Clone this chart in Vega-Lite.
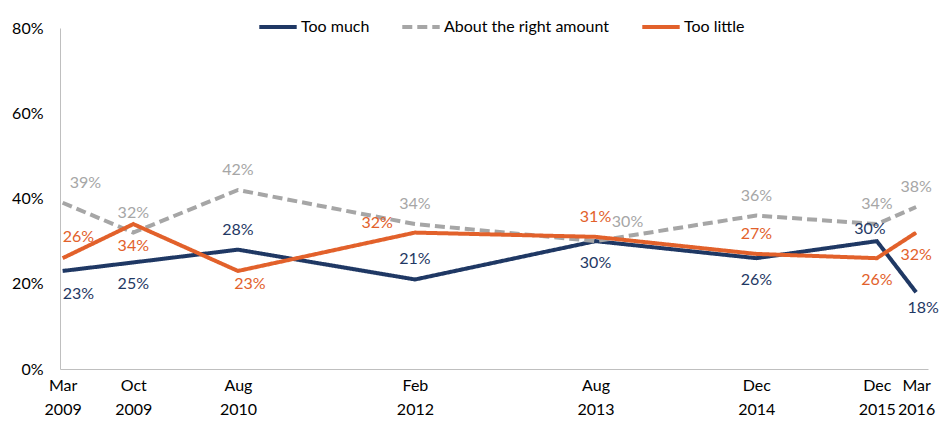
{
  "$schema": "https://vega.github.io/schema/vega-lite/v6.json",
  "width": 868,
  "height": 341,
  "autosize": {"type": "none"},
  "padding": {"left": 60, "top": 28, "right": 20, "bottom": 53},
  "background": "white",
  "config": {
    "view": {"stroke": null},
    "font": "Lato",
    "text": {"font": "Lato", "fontSize": 16, "baseline": "middle"}
  },
  "data": {
    "values": [
      {"period": "Mar 2009", "date": "2009-03-02", "series": "Too much", "value": 0.23},
      {"period": "Oct 2009", "date": "2009-10-02", "series": "Too much", "value": 0.25},
      {"period": "Aug 2010", "date": "2010-08-15", "series": "Too much", "value": 0.28},
      {"period": "Feb 2012", "date": "2012-02-02", "series": "Too much", "value": 0.21},
      {"period": "Aug 2013", "date": "2013-08-02", "series": "Too much", "value": 0.30},
      {"period": "Dec 2014", "date": "2014-12-02", "series": "Too much", "value": 0.26},
      {"period": "Dec 2015", "date": "2015-12-02", "series": "Too much", "value": 0.30},
      {"period": "Mar 2016", "date": "2016-03-30", "series": "Too much", "value": 0.18},
      {"period": "Mar 2009", "date": "2009-03-02", "series": "About the right amount", "value": 0.39},
      {"period": "Oct 2009", "date": "2009-10-02", "series": "About the right amount", "value": 0.32},
      {"period": "Aug 2010", "date": "2010-08-15", "series": "About the right amount", "value": 0.42},
      {"period": "Feb 2012", "date": "2012-02-02", "series": "About the right amount", "value": 0.34},
      {"period": "Aug 2013", "date": "2013-08-02", "series": "About the right amount", "value": 0.30},
      {"period": "Dec 2014", "date": "2014-12-02", "series": "About the right amount", "value": 0.36},
      {"period": "Dec 2015", "date": "2015-12-02", "series": "About the right amount", "value": 0.34},
      {"period": "Mar 2016", "date": "2016-03-30", "series": "About the right amount", "value": 0.38},
      {"period": "Mar 2009", "date": "2009-03-02", "series": "Too little", "value": 0.26},
      {"period": "Oct 2009", "date": "2009-10-02", "series": "Too little", "value": 0.34},
      {"period": "Aug 2010", "date": "2010-08-15", "series": "Too little", "value": 0.23},
      {"period": "Feb 2012", "date": "2012-02-02", "series": "Too little", "value": 0.32},
      {"period": "Aug 2013", "date": "2013-08-02", "series": "Too little", "value": 0.31},
      {"period": "Dec 2014", "date": "2014-12-02", "series": "Too little", "value": 0.27},
      {"period": "Dec 2015", "date": "2015-12-02", "series": "Too little", "value": 0.26},
      {"period": "Mar 2016", "date": "2016-03-30", "series": "Too little", "value": 0.32}
    ]
  },
  "encoding": {
    "x": {
      "field": "date",
      "type": "temporal",
      "scale": {"domain": [{"year": 2009, "month": 2, "date": 22}, {"year": 2016, "month": 5, "date": 5}]},
      "axis": {
        "title": null,
        "values": [
          {"year": 2009, "month": 3, "date": 2},
          {"year": 2009, "month": 10, "date": 2},
          {"year": 2010, "month": 8, "date": 15},
          {"year": 2012, "month": 2, "date": 2},
          {"year": 2013, "month": 8, "date": 2},
          {"year": 2014, "month": 12, "date": 2},
          {"year": 2015, "month": 12, "date": 2},
          {"year": 2016, "month": 3, "date": 30}
        ],
        "labelExpr": "[timeFormat(datum.value, '%b'), timeFormat(datum.value, '%Y')]",
        "labelFont": "Lato",
        "labelFontSize": 16,
        "labelLineHeight": 24,
        "labelPadding": 8,
        "labelColor": "#000000",
        "labelOverlap": false,
        "labelFlush": false,
        "domainColor": "#bfbfbf",
        "domainWidth": 1,
        "ticks": false,
        "grid": false
      }
    },
    "y": {
      "field": "value",
      "type": "quantitative",
      "scale": {"domain": [0, 0.8]},
      "axis": {
        "title": null,
        "values": [0, 0.2, 0.4, 0.6, 0.8],
        "format": ".0%",
        "labelFont": "Lato",
        "labelFontSize": 16,
        "labelPadding": 17,
        "labelColor": "#000000",
        "domainColor": "#bfbfbf",
        "domainWidth": 1,
        "ticks": false,
        "grid": false
      }
    }
  },
  "layer": [
    {
      "mark": {"type": "line", "strokeWidth": 4, "strokeCap": "butt"},
      "encoding": {
        "color": {
          "field": "series",
          "type": "nominal",
          "scale": {"domain": ["Too much", "About the right amount", "Too little"], "range": ["#1f3864", "#a6a6a6", "#e2612b"]},
          "legend": {"orient": "none", "legendX": 197, "legendY": -22, "direction": "horizontal", "title": null, "symbolType": "stroke", "symbolSize": 1400, "symbolStrokeWidth": 4, "labelFont": "Lato", "labelFontSize": 16, "labelColor": "#000000", "labelOffset": 2, "labelLimit": 400, "columnPadding": 24}
        },
        "strokeDash": {
          "field": "series",
          "type": "nominal",
          "scale": {"domain": ["Too much", "About the right amount", "Too little"], "range": [[1, 0], [10, 5], [1, 0]]},
          "legend": {"orient": "none", "legendX": 197, "legendY": -22, "direction": "horizontal", "title": null, "symbolType": "stroke", "symbolSize": 1400, "symbolStrokeWidth": 4, "labelFont": "Lato", "labelFontSize": 16, "labelColor": "#000000", "labelOffset": 2, "labelLimit": 400, "columnPadding": 24}
        }
      }
    },
    {
      "transform": [{"filter": "(datum.series == 'About the right amount' && datum.period != 'Mar 2009' && datum.period != 'Aug 2013') || (datum.series == 'Too much' && (datum.period == 'Aug 2010' || datum.period == 'Feb 2012')) || (datum.series == 'Too little' && (datum.period == 'Aug 2013' || datum.period == 'Dec 2014'))"}],
      "mark": {"type": "text", "dy": -20, "align": "center"},
      "encoding": {"text": {"field": "value", "type": "quantitative", "format": ".0%"}, "color": {"field": "series", "type": "nominal", "legend": null}}
    },
    {
      "transform": [{"filter": "(datum.series == 'Too much' && (datum.period == 'Oct 2009' || datum.period == 'Aug 2013' || datum.period == 'Dec 2014')) || (datum.series == 'Too little' && (datum.period == 'Oct 2009' || datum.period == 'Dec 2015' || datum.period == 'Mar 2016'))"}],
      "mark": {"type": "text", "dy": 22, "align": "center"},
      "encoding": {"text": {"field": "value", "type": "quantitative", "format": ".0%"}, "color": {"field": "series", "type": "nominal", "legend": null}}
    },
    {
      "transform": [{"filter": "datum.series == 'Too much' && datum.period == 'Mar 2009'"}],
      "mark": {"type": "text", "dy": 23, "dx": 0, "align": "left"},
      "encoding": {"text": {"field": "value", "type": "quantitative", "format": ".0%"}, "color": {"field": "series", "type": "nominal", "legend": null}}
    },
    {
      "transform": [{"filter": "datum.series == 'Too little' && datum.period == 'Mar 2009'"}],
      "mark": {"type": "text", "dy": -21, "dx": 0, "align": "left"},
      "encoding": {"text": {"field": "value", "type": "quantitative", "format": ".0%"}, "color": {"field": "series", "type": "nominal", "legend": null}}
    },
    {
      "transform": [{"filter": "datum.series == 'About the right amount' && datum.period == 'Mar 2009'"}],
      "mark": {"type": "text", "dy": -20, "dx": 7, "align": "left"},
      "encoding": {"text": {"field": "value", "type": "quantitative", "format": ".0%"}, "color": {"field": "series", "type": "nominal", "legend": null}}
    },
    {
      "transform": [{"filter": "datum.series == 'About the right amount' && datum.period == 'Aug 2013'"}],
      "mark": {"type": "text", "dy": -19, "dx": 32, "align": "center"},
      "encoding": {"text": {"field": "value", "type": "quantitative", "format": ".0%"}, "color": {"field": "series", "type": "nominal", "legend": null}}
    },
    {
      "transform": [{"filter": "datum.series == 'Too much' && datum.period == 'Dec 2015'"}],
      "mark": {"type": "text", "dy": -12, "dx": -7, "align": "center"},
      "encoding": {"text": {"field": "value", "type": "quantitative", "format": ".0%"}, "color": {"field": "series", "type": "nominal", "legend": null}}
    },
    {
      "transform": [{"filter": "datum.series == 'Too much' && datum.period == 'Mar 2016'"}],
      "mark": {"type": "text", "dy": 16, "dx": 7, "align": "center"},
      "encoding": {"text": {"field": "value", "type": "quantitative", "format": ".0%"}, "color": {"field": "series", "type": "nominal", "legend": null}}
    },
    {
      "transform": [{"filter": "datum.series == 'Too little' && datum.period == 'Feb 2012'"}],
      "mark": {"type": "text", "dy": -10, "dx": -22, "align": "right"},
      "encoding": {"text": {"field": "value", "type": "quantitative", "format": ".0%"}, "color": {"field": "series", "type": "nominal", "legend": null}}
    },
    {
      "transform": [{"filter": "datum.series == 'Too little' && datum.period == 'Aug 2010'"}],
      "mark": {"type": "text", "dy": 13, "dx": 12, "align": "center"},
      "encoding": {"text": {"field": "value", "type": "quantitative", "format": ".0%"}, "color": {"field": "series", "type": "nominal", "legend": null}}
    }
  ]
}
